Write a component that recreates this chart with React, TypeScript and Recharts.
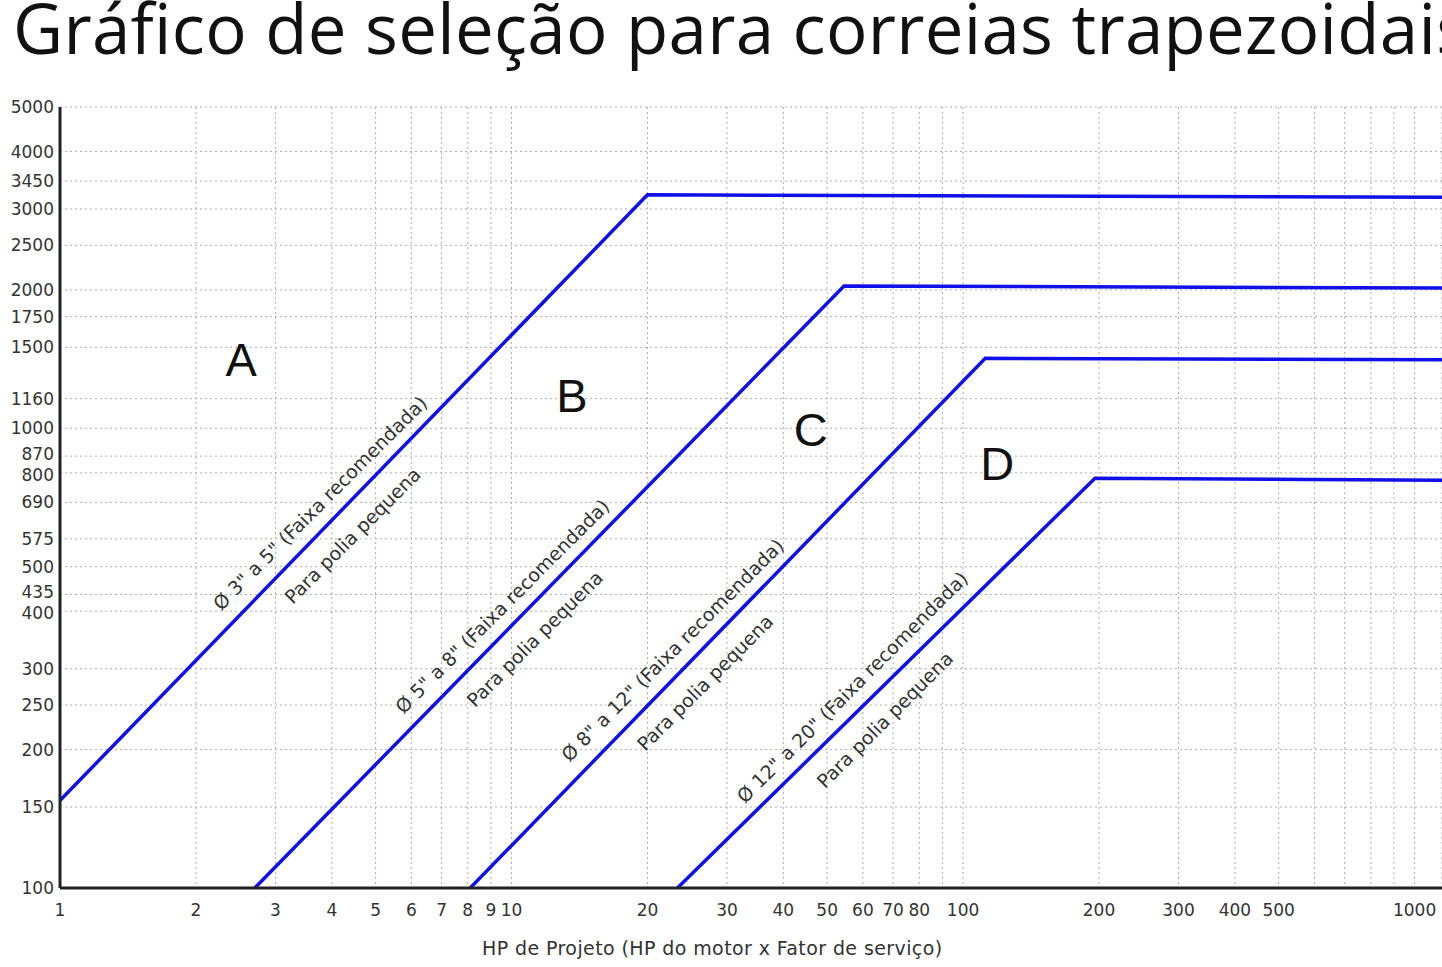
import { LineChart, Line, XAxis, YAxis, CartesianGrid, ReferenceDot } from "recharts";

// HP de projeto (x, log) / RPM (y, log)
const hpTicks = [1, 2, 3, 4, 5, 6, 7, 8, 9, 10, 20, 30, 40, 50, 60, 70, 80, 90, 100, 200, 300, 400, 500, 600, 700, 800, 900, 1000];
const hpUnlabelled = [90, 600, 700, 800, 900];
const rpmTicks = [100, 150, 200, 250, 300, 400, 435, 500, 575, 690, 800, 870, 1000, 1160, 1500, 1750, 2000, 2500, 3000, 3450, 4000, 5000];
// tick labels that sit very close together are pushed apart a little
const rpmNudgeUp = [870, 435];
const rpmNudgeDown = [800, 400];

// belt section limits
const hpA = [1, 20, 1150];
const rpmA = [155, 3220, 3180];
const hpB = [2.7, 54.5, 1150];
const rpmB = [100, 2040, 2020];
const hpC = [8.1, 112, 1150];
const rpmC = [100, 1420, 1410];
const hpD = [23.3, 196, 1150];
const rpmD = [100, 779, 771];

const sectionNames = ["A", "B", "C", "D"];
const sectionHp = [2.52, 13.6, 46, 119];
const sectionRpm = [1410, 1180, 995, 840];

const rangeText = [
  "Ø 3\" a 5\" (Faixa recomendada)",
  "Ø 5\" a 8\" (Faixa recomendada)",
  "Ø 8\" a 12\" (Faixa recomendada)",
  "Ø 12\" a 20\" (Faixa recomendada)",
];
const smallText = "Para polia pequena";
// point on each diagonal where its notes sit
const noteHp = [4.06, 10.28, 24.5, 61.3];
const noteRpm = [639, 381, 306, 254];

const zip = (hp: number[], rpm: number[]) => hp.map((h, i) => ({ hp: h, rpm: rpm[i] }));
const belts = [zip(hpA, rpmA), zip(hpB, rpmB), zip(hpC, rpmC), zip(hpD, rpmD)];

const FONT = "'DejaVu Sans', sans-serif";
const BLUE = "#1010e8";

function RpmTick(props: any) {
  const { x, y, payload } = props;
  const v = payload.value;
  const shift = rpmNudgeUp.includes(v) ? -2 : rpmNudgeDown.includes(v) ? 2 : 0;
  return (
    <text
      x={x}
      y={y + shift}
      textAnchor="end"
      dominantBaseline="central"
      fill="#333"
      fontSize={17}
      fontFamily={FONT}
    >
      {v}
    </text>
  );
}

export default function App() {
  return (
    <div
      style={{
        position: "absolute",
        left: 0,
        top: 0,
        width: 1442,
        height: 967,
        overflow: "hidden",
        background: "#fff",
      }}
    >
      <div
        style={{
          position: "absolute",
          left: 13,
          top: -7,
          fontFamily: "'Open Sans', sans-serif",
          fontSize: 69,
          lineHeight: "69px",
          letterSpacing: 0.3,
          whiteSpace: "nowrap",
          color: "#111",
        }}
      >
        Gráfico de seleção para correias trapezoidais
      </div>
      <div style={{ position: "absolute", left: 0, top: 0 }}>
        <LineChart width={1442} height={967} margin={{ top: 107, right: 0, left: 0, bottom: 0 }}>
          <CartesianGrid stroke="#aeaeae" strokeDasharray="2 3" />
          <XAxis
            type="number"
            dataKey="hp"
            scale="log"
            domain={[1, 1150]}
            allowDataOverflow
            ticks={hpTicks}
            interval={0}
            height={79}
            tickSize={0}
            tickMargin={16}
            tickFormatter={(v: number) => (hpUnlabelled.includes(v) ? "" : String(v))}
            tick={{ fill: "#333", fontSize: 17, fontFamily: FONT }}
            axisLine={{ stroke: "#222", strokeWidth: 3 }}
            label={(props: any) => {
              const vb = props.viewBox;
              return (
                <text
                  x={vb.x + vb.width * 0.472}
                  y={vb.y + 67}
                  textAnchor="middle"
                  fill="#333"
                  fontSize={19}
                  letterSpacing={0.4}
                  fontFamily={FONT}
                >
                  HP de Projeto (HP do motor x Fator de serviço)
                </text>
              );
            }}
          />
          <YAxis
            type="number"
            dataKey="rpm"
            scale="log"
            domain={[100, 5000]}
            allowDataOverflow
            ticks={rpmTicks}
            interval={0}
            width={60}
            tickSize={0}
            tickMargin={6}
            tick={<RpmTick />}
            axisLine={{ stroke: "#222", strokeWidth: 3 }}
          />
          {belts.map((d, i) => (
            <Line
              key={i}
              data={d}
              dataKey="rpm"
              type="linear"
              stroke={BLUE}
              strokeWidth={3.5}
              dot={false}
              activeDot={false}
              isAnimationActive={false}
            />
          ))}
          {sectionNames.map((name, i) => (
            <ReferenceDot
              key={name}
              x={sectionHp[i]}
              y={sectionRpm[i]}
              r={1}
              shape={(p: any) => (
                <text
                  x={p.cx}
                  y={p.cy}
                  textAnchor="middle"
                  dominantBaseline="central"
                  fontSize={47}
                  fontFamily="'Liberation Sans', Arial, sans-serif"
                  fill="#111"
                >
                  {name}
                </text>
              )}
            />
          ))}
          {rangeText.map((t, i) => (
            <ReferenceDot
              key={t}
              x={noteHp[i]}
              y={noteRpm[i]}
              r={1}
              shape={(p: any) => (
                <g transform={`rotate(-45 ${p.cx} ${p.cy})`}>
                  <text
                    x={p.cx}
                    y={p.cy - 21}
                    textAnchor="middle"
                    dominantBaseline="central"
                    fontSize={19}
                    fontFamily={FONT}
                    fill="#333"
                  >
                    {t}
                  </text>
                  <text
                    x={p.cx}
                    y={p.cy + 25}
                    textAnchor="middle"
                    dominantBaseline="central"
                    fontSize={19}
                    fontFamily={FONT}
                    fill="#333"
                  >
                    {smallText}
                  </text>
                </g>
              )}
            />
          ))}
        </LineChart>
      </div>
    </div>
  );
}
